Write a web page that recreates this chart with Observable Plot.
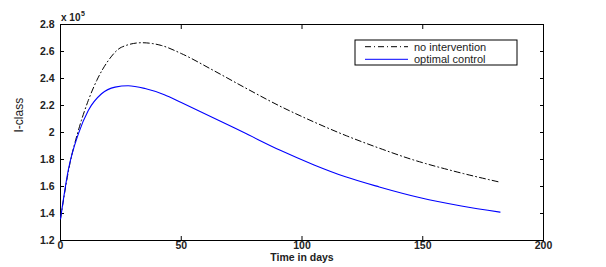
<!DOCTYPE html>
<html>
<head>
<meta charset="utf-8">
<script src="https://cdn.jsdelivr.net/npm/d3@7"></script>
<script src="https://cdn.jsdelivr.net/npm/@observablehq/plot@0.6"></script>
<style>
  html, body { margin: 0; padding: 0; background: #fff; }
  #chart { width: 606px; height: 267px; }
  svg { font-family: "Liberation Sans", Arial, sans-serif; }
</style>
</head>
<body>
<div id="chart"></div>
<script>
// Data (I-class values in units of 10^5)
const tNoIntervention = [0, 3.9, 7.4, 11.5, 15, 19.8, 25.3, 33.6, 41.9, 50, 63.3, 77.1, 90.9, 104.7, 118.5, 132.3, 144.7, 162.6, 182];
const vNoIntervention = [1.36, 1.77, 2.015, 2.237, 2.385, 2.533, 2.632, 2.665, 2.644, 2.585, 2.46, 2.325, 2.195, 2.08, 1.975, 1.882, 1.805, 1.715, 1.632];
const tOptimal = [0, 3.2, 7.4, 11.5, 17, 22.6, 28, 35, 43, 50, 63, 77, 91, 105, 118, 132, 149, 166, 182];
const vOptimal = [1.36, 1.72, 1.99, 2.163, 2.287, 2.336, 2.346, 2.326, 2.28, 2.222, 2.112, 1.99, 1.868, 1.76, 1.672, 1.597, 1.517, 1.456, 1.41];
const xTicks = [0, 50, 100, 150, 200];
const yTicks = [1.2, 1.4, 1.6, 1.8, 2, 2.2, 2.4, 2.6, 2.8];
const seriesNames = ["no intervention", "optimal control"];
const xLabel = "Time in days";
const yLabel = "I-class";

const noInt = tNoIntervention.map((t, i) => ({t, v: vNoIntervention[i]}));
const opt = tOptimal.map((t, i) => ({t, v: vOptimal[i]}));

const blank = () => "";
const plot = Plot.plot({
  width: 606,
  height: 267,
  marginLeft: 60,
  marginRight: 63,
  marginTop: 24,
  marginBottom: 27,
  style: {fontSize: "10.5px", fontFamily: "Liberation Sans, Arial, sans-serif", color: "#000", background: "#fff"},
  x: {domain: [0, 200]},
  y: {domain: [1.2, 2.8]},
  marks: [
    Plot.frame({stroke: "#000", strokeWidth: 1}),
    Plot.axisX(xTicks, {anchor: "bottom", tickSize: 0, tickPadding: 1, label: null, fontWeight: "bold", fill: "#222"}),
    Plot.axisX(xTicks, {anchor: "bottom", tickSize: -4, tickFormat: blank, label: null}),
    Plot.axisX(xTicks, {anchor: "top", tickSize: -4, tickFormat: blank, label: null}),
    Plot.axisY(yTicks, {anchor: "left", tickSize: 0, tickPadding: 6, label: null, tickFormat: d => String(d), fontWeight: "bold", fill: "#222"}),
    Plot.axisY(yTicks, {anchor: "left", tickSize: -4, tickFormat: blank, label: null}),
    Plot.axisY(yTicks, {anchor: "right", tickSize: -4, tickFormat: blank, label: null}),
    Plot.line(noInt, {x: "t", y: "v", stroke: "#000", strokeWidth: 1, strokeDasharray: "6,3,1,3", curve: "monotone-x"}),
    Plot.line(opt, {x: "t", y: "v", stroke: "#0000ff", strokeWidth: 1.1, curve: "monotone-x"}),
    Plot.text([xLabel], {frameAnchor: "bottom", dy: 20, fontSize: 10.5, fontWeight: "bold", fill: "#222"}),
    Plot.text([yLabel], {frameAnchor: "left", dx: -41, rotate: -90, fontSize: 12, fill: "#222"})
  ]
});

document.getElementById("chart").appendChild(plot);

// scale factor label, and legend box
const svg = d3.select(plot);
const sf = svg.append("text").attr("text-anchor", "start").attr("fill", "#222").attr("font-weight", "bold");
sf.append("tspan").attr("x", 61).attr("y", 21).attr("font-size", 10).text("x 10");
sf.append("tspan").attr("x", 81).attr("y", 16).attr("font-size", 7).text("5");

const lg = svg.append("g").attr("transform", "translate(355,40)");
lg.append("rect").attr("width", 162).attr("height", 25).attr("fill", "#fff").attr("stroke", "#000").attr("stroke-width", 1);
const styles = [{stroke: "#000", dash: "6,3,1,3"}, {stroke: "#0000ff", dash: null}];
seriesNames.forEach((name, i) => {
  const y = 6.7 + i * 12.6;
  lg.append("line").attr("x1", 10).attr("x2", 53).attr("y1", y).attr("y2", y)
    .attr("stroke", styles[i].stroke).attr("stroke-width", 1).attr("stroke-dasharray", styles[i].dash);
  lg.append("text").attr("x", 59).attr("y", y).attr("dy", "0.35em").attr("text-anchor", "start")
    .attr("font-size", 11).attr("fill", "#222").text(name);
});
</script>
</body>
</html>
